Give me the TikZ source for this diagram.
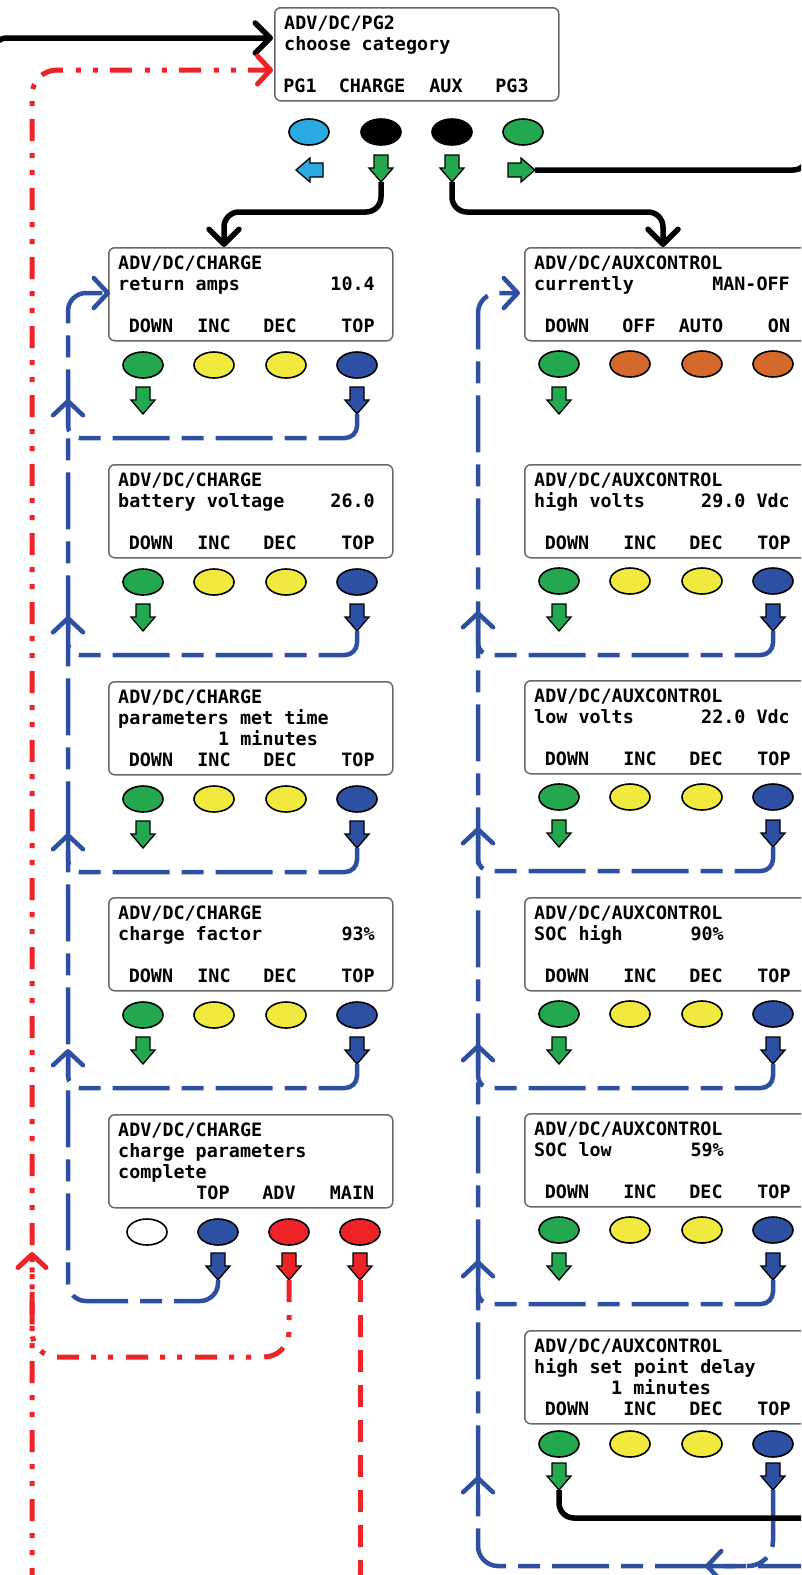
\documentclass[tikz,border=0pt]{standalone}
\usepackage{fontspec}
\newfontfamily\lcdfont{DejaVu Sans Mono}
\usetikzlibrary{arrows.meta,shapes.geometric}
\definecolor{bgreen}{RGB}{35,168,80}
\definecolor{byellow}{RGB}{240,234,62}
\definecolor{bblue}{RGB}{46,80,162}
\definecolor{lblue}{RGB}{41,170,225}
\definecolor{borange}{RGB}{213,105,43}
\definecolor{bred}{RGB}{237,35,40}
\definecolor{boxgray}{RGB}{105,105,105}
\tikzset{
 screen/.style={draw=boxgray, line width=1.5pt, rounded corners=6pt, fill=white, minimum width=284pt, minimum height=93pt, inner sep=0pt, anchor=north west},
 lcd/.style={font=\lcdfont\bfseries\fontsize{18.4}{20}\selectfont, inner sep=0pt, text=black},
 lw/.style={lcd, anchor=base west},
 le/.style={lcd, anchor=base east},
 lc/.style={lcd, anchor=base},
 btn/.style={ellipse, draw=black, line width=1.6pt, minimum width=40pt, minimum height=26pt, inner sep=0pt},
 blk/.style={line width=5.5pt, draw=black},
 bdash/.style={line width=4.5pt, draw=bblue, dash pattern=on 57pt off 12pt on 22pt off 12pt},
 rdd/.style={line width=5pt, draw=bred, dash pattern=on 22pt off 13pt on 5pt off 12pt on 5pt off 12pt},
 rdash/.style={line width=5pt, draw=bred, dash pattern=on 22pt off 13pt},
 chevk/.style={-{Straight Barb[length=15pt,width=30pt,round]}},
 chevb/.style={-{Straight Barb[length=14pt,width=30pt,round]}},
 chevr/.style={-{Straight Barb[length=13pt,width=28pt,round]}},
 pics/dn/.style={code={\draw[fill=#1, line width=1.3pt, line join=miter] (-7,0) -- (7,0) -- (7,13) -- (12,13) -- (0,27) -- (-12,13) -- (-7,13) -- cycle; \coordinate (-tip) at (0,27);}},
 pics/lf/.style={code={\draw[fill=#1, line width=1.3pt, line join=miter] (0,-7) -- (0,7) -- (-13,7) -- (-13,12) -- (-27,0) -- (-13,-12) -- (-13,-7) -- cycle; \coordinate (-tip) at (-27,0);}},
 pics/rt/.style={code={\draw[fill=#1, line width=1.3pt, line join=miter] (0,-7) -- (0,7) -- (13,7) -- (13,12) -- (27,0) -- (13,-12) -- (13,-7) -- cycle; \coordinate (-tip) at (27,0);}},
}
\begin{document}
\begin{tikzpicture}[x=1pt,y=-1pt]
\useasboundingbox (0,0) rectangle (801,1575);
\clip (0,0) rectangle (801,1575);

% ---------- top screen ----------
\node[screen] (top) at (274,7) {};
\node[lw] (topa) at (284,29) {ADV/DC/PG2};
\node[lw] (topb) at (284,50) {choose category};
\node[lc] (topl1) at (300,92) {PG1};
\node[lc] (topl2) at (372,92) {CHARGE};
\node[lc] (topl3) at (446,92) {AUX};
\node[lc] (topl4) at (512,92) {PG3};
\node[btn, fill=lblue] (topb1) at (309,132) {};
\node[btn, fill=black] (topb2) at (381,132) {};
\node[btn, fill=black] (topb3) at (452,132) {};
\node[btn, fill=bgreen] (topb4) at (523,132) {};
\pic (tpg1) at (323,170) {lf=lblue};
\pic (tch) at (381,155) {dn=bgreen};
\pic (tax) at (452,155) {dn=bgreen};
\pic (tpg3) at (508,170) {rt=bgreen};
\coordinate (tin1) at (273,38);
\coordinate (tin2) at (273,70);

% ---------- left column (CHARGE) ----------
\foreach \n/\t in {1/247,2/464,3/681,4/897}{
  \node[screen] (s\n) at (108,\t) {};
  \node[lc] (s\n l1) at (151,\t+85) {DOWN};
  \node[lc] (s\n l2) at (214,\t+85) {INC};
  \node[lc] (s\n l3) at (280,\t+85) {DEC};
  \node[lc] (s\n l4) at (358,\t+85) {TOP};
  \node[btn, fill=bgreen] (s\n b1) at (143,\t+118) {};
  \node[btn, fill=byellow] (s\n b2) at (214,\t+118) {};
  \node[btn, fill=byellow] (s\n b3) at (286,\t+118) {};
  \node[btn, fill=bblue] (s\n b4) at (357,\t+118) {};
  \pic (s\n tg) at (143,\t+140) {dn=bgreen};
  \pic (s\n tb) at (357,\t+140) {dn=bblue};
  \node[lw] (s\n a) at (118,\t+22) {ADV/DC/CHARGE};
}
\node[lw] (s1b) at (118,290) {return amps};
\node[le] (s1v) at (375,290) {10.4};
\node[lw] (s2b) at (118,507) {battery voltage};
\node[le] (s2v) at (375,507) {26.0};
\node[lw] (s3b) at (118,724) {parameters met time};
\node[lw] (s3c) at (218,745) {1 minutes};
\node[lw] (s4b) at (118,940) {charge factor};
\node[le] (s4v) at (375,940) {93\%};

% screen 5
\node[screen] (s5) at (108,1114) {};
\node[lw] (s5a) at (118,1136) {ADV/DC/CHARGE};
\node[lw] (s5b) at (118,1157) {charge parameters};
\node[lw] (s5c) at (118,1178) {complete};
\node[lc] (s5l2) at (213,1199) {TOP};
\node[lc] (s5l3) at (279,1199) {ADV};
\node[lc] (s5l4) at (352,1199) {MAIN};
\node[btn, fill=white] (s5b1) at (147,1232) {};
\node[btn, fill=bblue] (s5b2) at (218,1232) {};
\node[btn, fill=bred] (s5b3) at (289,1232) {};
\node[btn, fill=bred] (s5b4) at (360,1232) {};
\pic (s5tb) at (218,1253) {dn=bblue};
\pic (s5tr1) at (289,1253) {dn=bred};
\pic (s5tr2) at (360,1253) {dn=bred};

% ---------- right column (AUX) ----------
\foreach \n/\t in {1/247,2/464,3/680,4/897,5/1113}{
  \node[screen] (a\n) at (524,\t) {};
  \node[lw] (a\n a) at (534,\t+22) {ADV/DC/AUXCONTROL};
  \node[btn, fill=bgreen] (a\n b1) at (559,\t+117) {};
  \pic (a\n tg) at (559,\t+140) {dn=bgreen};
}
\node[lw] (a1b) at (534,290) {currently};
\node[le] (a1v) at (790,290) {MAN-OFF};
\node[lc] (a1l1) at (567,332) {DOWN};
\node[lc] (a1l2) at (639,332) {OFF};
\node[lc] (a1l3) at (701,332) {AUTO};
\node[lc] (a1l4) at (779,332) {ON};
\node[btn, fill=borange] (a1b2) at (630,364) {};
\node[btn, fill=borange] (a1b3) at (702,364) {};
\node[btn, fill=borange] (a1b4) at (773,364) {};
\foreach \n/\t in {2/464,3/680,4/897,5/1113}{
  \node[lc] (a\n l1) at (567,\t+85) {DOWN};
  \node[lc] (a\n l2) at (640,\t+85) {INC};
  \node[lc] (a\n l3) at (706,\t+85) {DEC};
  \node[lc] (a\n l4) at (774,\t+85) {TOP};
  \node[btn, fill=byellow] (a\n b2) at (630,\t+117) {};
  \node[btn, fill=byellow] (a\n b3) at (702,\t+117) {};
  \node[btn, fill=bblue] (a\n b4) at (773,\t+117) {};
  \pic (a\n tb) at (773,\t+140) {dn=bblue};
}
\node[lw] (a2b) at (534,507) {high volts};
\node[le] (a2v) at (790,507) {29.0 Vdc};
\node[lw] (a3b) at (534,723) {low volts};
\node[le] (a3v) at (790,723) {22.0 Vdc};
\node[lw] (a4b) at (534,940) {SOC high};
\node[le] (a4v) at (724,940) {90\%};
\node[lw] (a5b) at (534,1156) {SOC low};
\node[le] (a5v) at (724,1156) {59\%};

% screen A6
\node[screen] (a6) at (524,1330) {};
\node[lw] (a6a) at (534,1352) {ADV/DC/AUXCONTROL};
\node[lw] (a6b) at (534,1373) {high set point delay};
\node[lw] (a6c) at (611,1394) {1 minutes};
\node[lc] (a6l1) at (567,1415) {DOWN};
\node[lc] (a6l2) at (640,1415) {INC};
\node[lc] (a6l3) at (706,1415) {DEC};
\node[lc] (a6l4) at (774,1415) {TOP};
\node[btn, fill=bgreen] (a6b1) at (559,1444) {};
\node[btn, fill=byellow] (a6b2) at (630,1444) {};
\node[btn, fill=byellow] (a6b3) at (702,1444) {};
\node[btn, fill=bblue] (a6b4) at (773,1444) {};
\pic (a6tg) at (559,1463) {dn=bgreen};
\pic (a6tb) at (773,1463) {dn=bblue};

% ---------- connectors ----------
\coordinate (s1in) at (224,247);
\coordinate (a1in) at (663,247);
\coordinate (s1side) at (110,293);
\coordinate (a1side) at (520,293);
\coordinate (offL) at (-8,90);
\coordinate (offR) at (808,100);
\coordinate (offB1) at (32,1590);
\coordinate (offB2) at (360,1590);
\coordinate (offR2) at (815,1518);
\coordinate (offR3) at (815,1566);
\coordinate (a6in) at (705,1566);

\draw[blk, chevk, rounded corners=15pt] (offL) |- (tin1);
\draw[rdd, chevr, rounded corners=25pt] (offB1) |- (tin2);
\draw[blk, chevk, rounded corners=15pt] (tch-tip) -- ++(0,30) -| (s1in);
\draw[blk, chevk, rounded corners=15pt] (tax-tip) -- ++(0,30) -| (a1in);
\draw[blk, rounded corners=15pt] (tpg3-tip) -| (offR);

% left loops
\foreach \n/\t in {1/247,2/464,3/681,4/897}{
  \draw[bdash, chevb, rounded corners=12pt] (s\n tb-tip) |- (68,\t+191) -- (68,\t+152);
}
\draw[bdash, chevb, rounded corners=18pt] (s5tb-tip) |- (68,1301) -- (68,293) -- (s1side);

% right loops
\foreach \n/\t in {2/464,3/680,4/897,5/1113}{
  \draw[bdash, chevb, rounded corners=12pt] (a\n tb-tip) |- (478,\t+191) -- (478,\t+147);
}
\draw[bdash, chevb, rounded corners=20pt] (offR3) -- (478,1566) -- (478,293) -- (a1side);
\draw[bdash, chevb] (478,1500) -- (478,1476);
\draw[bdash, chevb, rounded corners=25pt] (a6tb-tip) |- (a6in);
\draw[blk, rounded corners=15pt] (a6tg-tip) |- (offR2);

% red paths
\draw[rdd, chevr, rounded corners=25pt] (s5tr1-tip) |- (32,1357) -- (32,1252);
\draw[rdash] (s5tr2-tip) -- (offB2);
\end{tikzpicture}
\end{document}
